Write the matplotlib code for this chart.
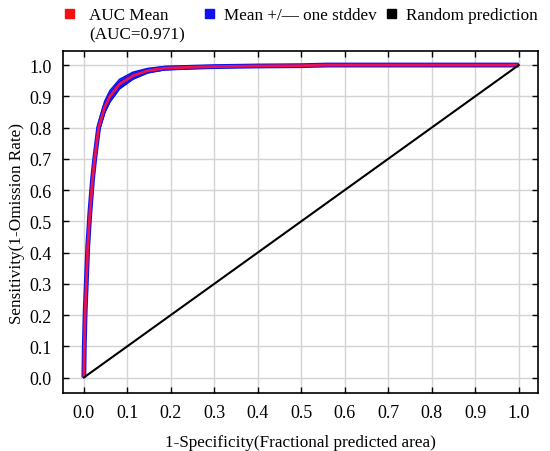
import numpy as np
import matplotlib
matplotlib.use("Agg")
import matplotlib.pyplot as plt
from matplotlib.patches import Rectangle

plt.rcParams['font.family'] = ['Liberation Serif', 'DejaVu Serif']

# mean ROC curve
fpr = [0, 0.001, 0.003, 0.006, 0.009, 0.014, 0.020, 0.025, 0.034, 0.048,
       0.060, 0.082, 0.113, 0.147, 0.186, 0.25, 0.30, 0.40, 0.50, 0.56, 0.70, 1.0]
tpr = [0, 0.10, 0.21, 0.315, 0.42, 0.53, 0.635, 0.70, 0.80, 0.866,
       0.90, 0.939, 0.966, 0.982, 0.990, 0.993, 0.995, 0.997, 0.998, 1.0, 1.0, 1.0]
tpr_std = [0, 0.006, 0.007, 0.009, 0.011, 0.012, 0.013, 0.014, 0.016, 0.018,
           0.018, 0.015, 0.011, 0.007, 0.005, 0.004, 0.003, 0.002, 0.002, 0.001, 0, 0]
random_x = [0, 1]
random_y = [0, 1]
ticks = np.round(np.arange(0, 1.01, 0.1), 1)
auc_label = "AUC Mean\n(AUC=0.971)"

red = '#f2104a'
blue = '#0a14f0'

fpr = np.array(fpr)
tpr = np.array(tpr)
tpr_std = np.array(tpr_std)
upper = np.minimum(tpr + tpr_std, 1.0)
lower = tpr - tpr_std

fig = plt.figure(figsize=(5.5, 4.52), dpi=100)
ax = fig.add_axes([0.1145, 0.128, 0.8635, 0.757])

ax.fill_between(fpr, lower, upper, color=blue, lw=0, zorder=2)
ax.plot(fpr, upper, color=blue, lw=1.2, zorder=2, solid_capstyle='butt')
ax.plot(fpr, lower, color=blue, lw=1.2, zorder=2, solid_capstyle='butt')
ax.plot(fpr, tpr, color=blue, lw=3.5, zorder=2, solid_capstyle='butt')
ax.plot(fpr, tpr, color=red, lw=2, zorder=3, solid_capstyle='butt')
ax.plot(random_x, random_y, color='black', lw=1.5, zorder=3)

ax.set_xlim(-0.048, 1.044)
ax.set_ylim(-0.05, 1.045)
ax.set_xticks(ticks)
ax.set_yticks(ticks)
ax.set_xticklabels(['%.1f' % t for t in ticks], fontsize=13)
ax.set_yticklabels(['%.1f' % t for t in ticks], fontsize=13)
ax.tick_params(direction='in', length=4, width=1, top=True, right=True, pad=8)
ax.grid(True, color='#d4d4d4', lw=1)
ax.set_axisbelow(True)
for s in ax.spines.values():
    s.set_linewidth(1.2)

ax.set_xlabel('1-Specificity(Fractional predicted area)', fontsize=12.3, labelpad=9)
ax.set_ylabel('Sensitivity(1-Omission Rate)', fontsize=12.3, labelpad=3)

# legend above the axes: (square left, text left, colour, label) in pixels
items = [(65, 89, '#f21010', auc_label),
         (205, 224, '#1010f2', 'Mean +/\u2014 one stddev'),
         (387, 406, 'black', 'Random prediction')]
W, H = 550.0, 452.0
for sx, tx, c, lab in items:
    fig.patches.append(Rectangle((sx / W, 1 - 18.5 / H), 8.5 / W, 8.5 / H,
                                 transform=fig.transFigure, color=c, figure=fig))
    fig.text(tx / W, 1 - 8.5 / H, lab, fontsize=12.3, va='top', ha='left',
             linespacing=1.2)

fig.savefig('out.png', dpi=100)
